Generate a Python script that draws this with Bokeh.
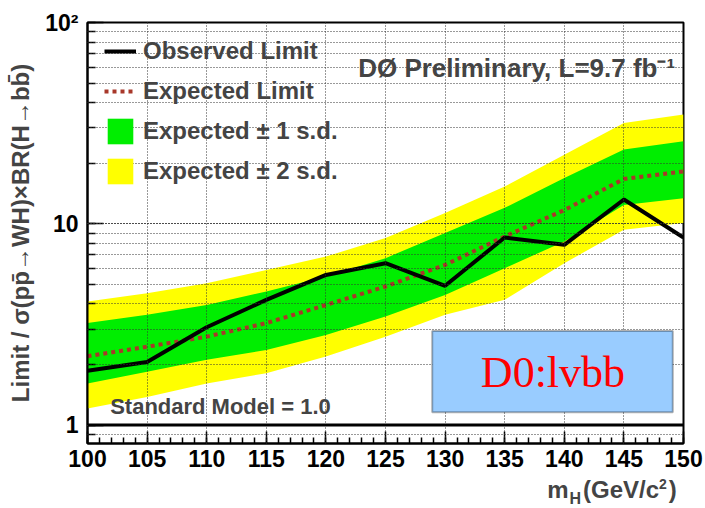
from bokeh.plotting import figure
from bokeh.layouts import column
from bokeh.models import (Legend, LegendItem, Label, BoxAnnotation, Span,
                          SingleIntervalTicker, LogTicker, CustomJSTickFormatter, Range1d)
from bokeh.embed import file_html
from bokeh.resources import INLINE

# Higgs mass points (GeV/c^2)
mass = [100, 105, 110, 115, 120, 125, 130, 135, 140, 145, 150]

# Limit / SM cross section
observed = [1.86, 2.06, 3.06, 4.19, 5.57, 6.37, 4.92, 8.55, 7.86, 13.2, 8.55]
expected = [2.20, 2.45, 2.75, 3.21, 3.95, 4.88, 6.25, 8.65, 11.7, 16.7, 18.2]

# +-1 s.d. band
sd1_low = [1.61, 1.84, 2.11, 2.36, 2.80, 3.46, 4.43, 6.02, 8.17, 12.4, 13.4]
sd1_high = [3.21, 3.53, 3.95, 4.61, 5.47, 6.75, 8.99, 12.0, 16.9, 23.4, 25.7]

# +-2 s.d. band
sd2_low = [1.21, 1.38, 1.61, 1.81, 2.19, 2.75, 3.53, 4.19, 6.37, 9.34, 10.1]
sd2_high = [4.11, 4.52, 5.07, 5.90, 6.87, 8.49, 11.3, 15.3, 22.0, 31.7, 34.9]

FONT = "Liberation Sans"

x_range = Range1d(100, 150)

p = figure(width=705, height=475, y_axis_type="log",
           x_range=x_range, y_range=Range1d(0.81, 100),
           output_backend="svg", toolbar_location=None,
           min_border_left=87, min_border_right=22,
           min_border_top=22, min_border_bottom=32,
           background_fill_color="white", border_fill_color="white")

p.outline_line_color = "black"
p.outline_line_width = 2

# bands, expected and observed curves
r_sd2 = p.varea(x=mass, y1=sd2_low, y2=sd2_high, fill_color="#ffff00")
r_sd1 = p.varea(x=mass, y1=sd1_low, y2=sd1_high, fill_color="#00ee00")
r_exp = p.line(mass, expected, line_color="#a8382a", line_width=4, line_dash="4 4")
r_obs = p.line(mass, observed, line_color="black", line_width=4)

# SM reference line
p.add_layout(Span(location=1.0, dimension="width", line_color="black", line_width=3))

# axes
xax = p.xaxis[0]
xax.ticker = SingleIntervalTicker(interval=5, num_minor_ticks=5)
yax = p.yaxis[0]
yax.ticker = LogTicker(num_minor_ticks=10)
yax.formatter = CustomJSTickFormatter(
    code="const v = Math.round(tick); return v >= 100 ? '10\u00b2' : String(v);")

for ax in (xax, yax):
    ax.axis_line_width = 2
    ax.major_tick_out = 0
    ax.minor_tick_out = 0
    ax.major_tick_line_width = 1.5
    ax.minor_tick_line_width = 1.5
    ax.major_label_text_font = FONT
    ax.major_label_text_font_style = "bold"
    ax.major_label_text_font_size = "23px"
    ax.major_label_text_color = "black"

xax.major_tick_in = 12
xax.minor_tick_in = 6
xax.major_label_standoff = 6
yax.major_tick_in = 16
yax.minor_tick_in = 8
yax.major_label_standoff = 9

yax.axis_label = "Limit / \u03c3(pp\u0304\u2192WH)\u00d7BR(H\u2192bb\u0304)"
yax.axis_label_text_font = FONT
yax.axis_label_text_font_style = "bold"
yax.axis_label_text_font_size = "24px"
yax.axis_label_standoff = 8

# dotted grid drawn over the bands
for g in (p.xgrid[0], p.ygrid[0]):
    g.level = "guide"
    g.grid_line_color = "#333333"
    g.grid_line_width = 1
    g.grid_line_dash = "1 2"
p.ygrid[0].minor_grid_line_color = "#333333"
p.ygrid[0].minor_grid_line_dash = "1 2"
p.ygrid[0].minor_grid_line_width = 1

# legend
legend = Legend(items=[
    LegendItem(label="Observed Limit", renderers=[r_obs]),
    LegendItem(label="Expected Limit", renderers=[r_exp]),
    LegendItem(label="Expected \u00b1 1 s.d.", renderers=[r_sd1]),
    LegendItem(label="Expected \u00b1 2 s.d.", renderers=[r_sd2]),
], location=(17, 256))
legend.glyph_width = 32
legend.glyph_height = 32
legend.spacing = 8
legend.padding = 0
legend.margin = 0
legend.label_standoff = 7
legend.label_text_font = FONT
legend.label_text_font_style = "bold"
legend.label_text_font_size = "24px"
legend.background_fill_alpha = 0
legend.border_line_alpha = 0
p.add_layout(legend)

# experiment tag
p.add_layout(Label(x=149.3, y=59.7, text="D\u00d8 Preliminary, L=9.7 fb\u207b\u00b9",
                   text_align="right", text_baseline="middle",
                   text_font=FONT, text_font_style="bold", text_font_size="26px"))

p.add_layout(Label(x=101.9, y=1.23, text="Standard Model = 1.0",
                   text_align="left", text_baseline="middle",
                   text_font=FONT, text_font_style="bold", text_font_size="22px"))

# channel box
p.add_layout(BoxAnnotation(left=128.92, right=149.1, bottom=1.157, top=2.936,
                           fill_color="#99ccff", fill_alpha=1.0,
                           line_color="black", line_width=2, level="annotation"))
p.add_layout(Label(x=139.05, y=1.835, text="D0:lvbb", text_align="center",
                   text_baseline="middle", text_color="red",
                   text_font="Liberation Serif", text_font_size="44px"))

# strip below the plot holding the x axis title: m_H (GeV/c^2)
t = figure(width=705, height=33, x_range=x_range, y_range=Range1d(0, 1),
           title=None, output_backend="svg", toolbar_location=None,
           x_axis_location=None, y_axis_location=None,
           min_border_left=87, min_border_right=22,
           min_border_top=0, min_border_bottom=0,
           background_fill_color="white", border_fill_color="white")
t.outline_line_color = None
t.grid.visible = False

def title_part(x, y, txt, size, align="left"):
    t.add_layout(Label(x=x, y=y, text=txt, text_align=align, text_baseline="middle",
                       text_font=FONT, text_font_style="bold", text_font_size=size))

title_part(138.56, 0.576, "m", "24px")
title_part(140.43, 0.318, "H", "16px")
title_part(141.57, 0.576, "(GeV/c", "24px")
title_part(147.95, 0.742, "2", "14px")
title_part(149.44, 0.576, ")", "24px", align="right")

open("out.html", "w").write(file_html(column(p, t, spacing=0), INLINE))
